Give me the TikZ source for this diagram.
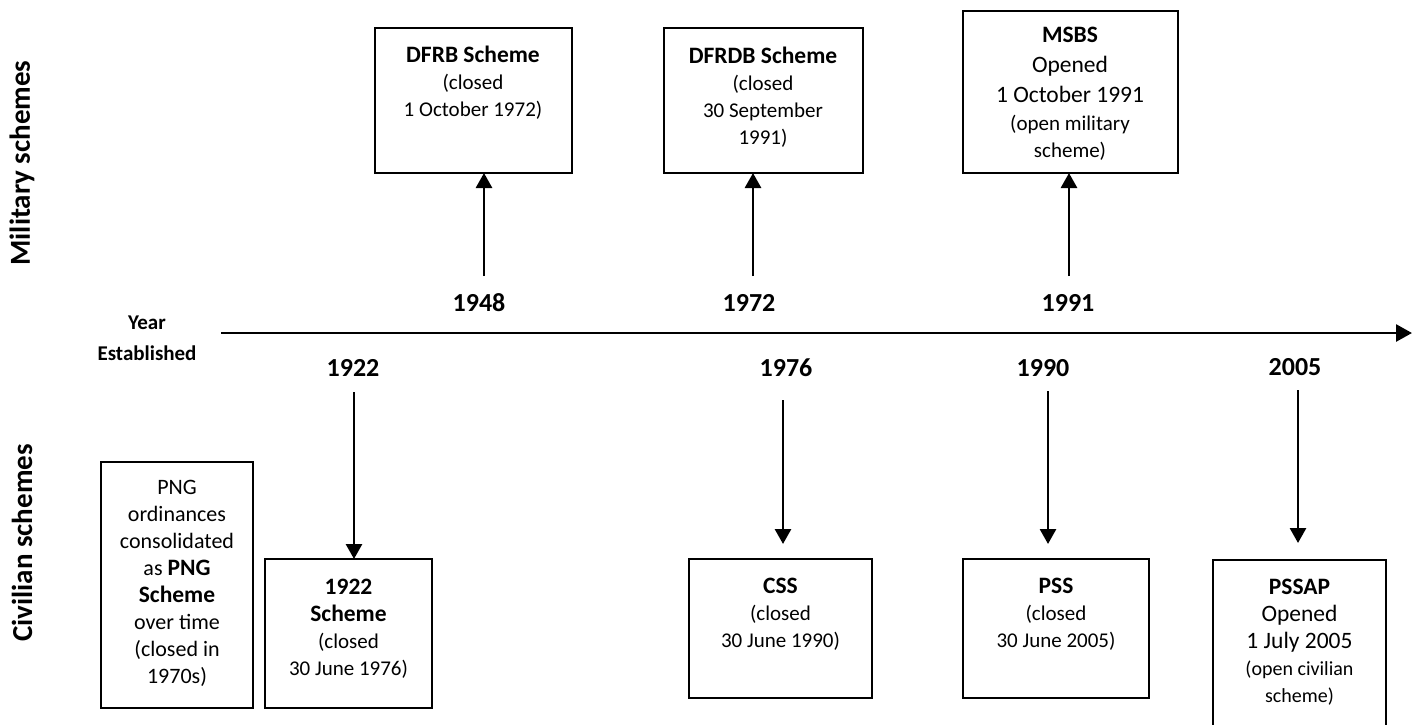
\documentclass[tikz,border=0pt]{standalone}
\usepackage{fontspec}
\setmainfont{Carlito}
\usetikzlibrary{arrows.meta}
\newcommand{\fsz}[2]{\fontsize{#1}{#2}\selectfont}
\newcommand{\hd}[1]{{\bfseries\fsz{23.5}{27}#1}}
\newcommand{\bg}[1]{{\fsz{23.5}{27}#1}}
\begin{document}
\begin{tikzpicture}[x=1pt,y=-1pt,
  box/.style={draw, line width=2pt, inner sep=0pt, outer sep=0pt},
  txt/.style={align=center, anchor=north, inner sep=0pt, font=\fsz{21}{27}},
  yr/.style={font=\bfseries\fsz{26}{30}, inner sep=0pt},
  lbl/.style={font=\bfseries\fsz{21}{25}, inner sep=0pt},
  arr/.style={line width=2.8pt, -{Triangle[length=15pt,width=16pt]}},
  side/.style={rotate=90, font=\bfseries\fsz{29}{34}, inner sep=0pt}]
\useasboundingbox (0,0) rectangle (1416,724);

% side labels
\node[side] (mil) at (22,163) {Military schemes};
\node[side] (civ) at (22,543) {Civilian schemes};

% axis
\node[lbl] (year) at (147,323) {Year};
\node[lbl] (estab) at (147,353) {Established};
\coordinate (ax0) at (221,333);
\coordinate (ax1) at (1412,333);
\draw[line width=2.7pt, -{Triangle[length=16pt,width=17pt]}] (ax0) -- (ax1);

% year labels
\node[yr] (y1948) at (479,303) {1948};
\node[yr] (y1972) at (749,303) {1972};
\node[yr] (y1991) at (1068,303) {1991};
\node[yr] (y1922) at (353,368) {1922};
\node[yr] (y1976) at (786,368) {1976};
\node[yr] (y1990) at (1043,368) {1990};
\node[yr] (y2005) at (1295,367) {2005};

% military boxes
\node[box, minimum width=197pt, minimum height=145pt] (dfrb) at (473.5,100.5) {};
\node[box, minimum width=199pt, minimum height=145pt] (dfrdb) at (763.5,100.5) {};
\node[box, minimum width=215pt, minimum height=162pt] (msbs) at (1070.5,92) {};
\node[txt] (tdfrb) at (473,46) {\hd{DFRB Scheme}\\(closed\\1 October 1972)};
\node[txt] (tdfrdb) at (763,47) {\hd{DFRDB Scheme}\\(closed\\30 September\\1991)};
\node[txt] (tmsbs) at (1070,27) {\hd{MSBS}\\[3pt]\bg{Opened}\\[3pt]\bg{1 October 1991}\\[1pt](open military\\scheme)};

% civilian boxes
\node[box, minimum width=152pt, minimum height=246pt] (png) at (177,585) {};
\node[box, minimum width=167pt, minimum height=149pt] (b1922) at (348.5,633.5) {};
\node[box, minimum width=183pt, minimum height=139pt] (css) at (780.5,628.5) {};
\node[box, minimum width=186pt, minimum height=139pt] (pss) at (1056,628.5) {};
\node[box, minimum width=173pt, minimum height=170pt] (pssap) at (1299.5,645) {};
\node[txt, font=\fsz{22}{27}] (tpng) at (177,480) {PNG\\ordinances\\consolidated\\as \hd{PNG}\\\hd{Scheme}\\over time\\(closed in\\1970s)};
\node[txt] (tb1922) at (348.5,579) {\hd{1922}\\\hd{Scheme}\\(closed\\30 June 1976)};
\node[txt] (tcss) at (780.5,578) {\hd{CSS}\\(closed\\30 June 1990)};
\node[txt] (tpss) at (1056,578) {\hd{PSS}\\(closed\\30 June 2005)};
\node[txt] (tpssap) at (1299.5,579) {\hd{PSSAP}\\\bg{Opened}\\\bg{1 July 2005}\\{\fsz{20}{27}(open civilian}\\{\fsz{20}{27}scheme)}};

% arrows up
\coordinate (s1948) at (484,276);
\coordinate (s1972) at (753,276);
\coordinate (s1991) at (1069,276);
\draw[arr] (s1948) -- (s1948 |- dfrb.south);
\draw[arr] (s1972) -- (s1972 |- dfrdb.south);
\draw[arr] (s1991) -- (s1991 |- msbs.south);

% arrows down
\coordinate (s1922) at (354,392);
\coordinate (s1976) at (783,400);
\coordinate (s1990) at (1048,391);
\coordinate (s2005) at (1298,390);
\draw[arr] (s1922) -- (s1922 |- b1922.north);
\draw[arr, shorten >=15pt] (s1976) -- (s1976 |- css.north);
\draw[arr, shorten >=15pt] (s1990) -- (s1990 |- pss.north);
\draw[arr, shorten >=17pt] (s2005) -- (s2005 |- pssap.north);
\end{tikzpicture}
\end{document}
